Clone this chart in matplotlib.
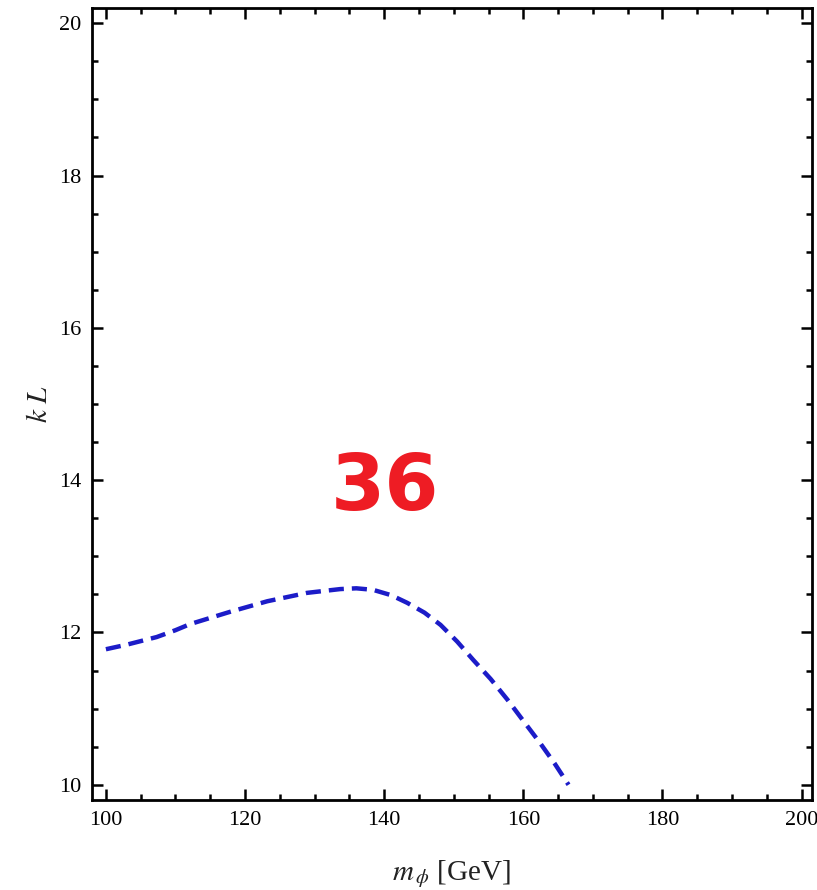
import matplotlib
matplotlib.use("Agg")
import matplotlib.pyplot as plt
from matplotlib.ticker import MultipleLocator

plt.rcParams['font.family'] = ['Liberation Serif', 'DejaVu Serif']
plt.rcParams['mathtext.fontset'] = 'stix'

# curve: m_phi [GeV] vs kL
m_phi = [100.0, 103.0, 107.3, 110.0, 112.1, 117.8, 123.2, 128.9, 133.7, 136.0,
         138.4, 141.0, 143.3, 145.8, 148.1, 150.5, 152.8, 155.3, 157.7, 160.0,
         162.4, 164.5, 166.5]
kL = [11.78, 11.84, 11.94, 12.03, 12.11, 12.27, 12.41, 12.52, 12.57, 12.58,
      12.56, 12.49, 12.39, 12.26, 12.10, 11.88, 11.64, 11.39, 11.12, 10.84,
      10.55, 10.28, 10.00]

x_range = (98.0, 201.5)
y_range = (9.8, 20.2)
stamp = "36"

fig = plt.figure(figsize=(8.17, 8.90), dpi=100)
ax = fig.add_axes([0.1126, 0.1011, 0.8813, 0.8899])

ax.plot(m_phi, kL, color='#1c1cc8', lw=3.2, linestyle=(0, (3.4, 1.8)),
        solid_capstyle='butt', dash_capstyle='butt')

ax.set_xlim(*x_range)
ax.set_ylim(*y_range)
ax.xaxis.set_major_locator(MultipleLocator(20))
ax.xaxis.set_minor_locator(MultipleLocator(5))
ax.yaxis.set_major_locator(MultipleLocator(2))
ax.yaxis.set_minor_locator(MultipleLocator(0.5))
ax.tick_params(which='both', direction='in', top=True, right=True,
               labeltop=False, labelright=False, width=1.8, colors='black',
               labelsize=16)
ax.tick_params(which='major', length=8, pad=8)
ax.tick_params(which='minor', length=4.5)
for sp in ax.spines.values():
    sp.set_linewidth(2.0)

ax.set_xlabel(r'$m_{\,\phi}$ [GeV]', fontsize=21, labelpad=20, color='#222222')
ax.set_ylabel(r'$k\ L$', fontsize=21, labelpad=4, color='#222222')

ax.text(140.1, 13.9, stamp, color='#ee1c24', fontsize=56, fontweight='bold',
        family='DejaVu Sans', ha='center', va='center')

fig.savefig("out.png", dpi=100)
